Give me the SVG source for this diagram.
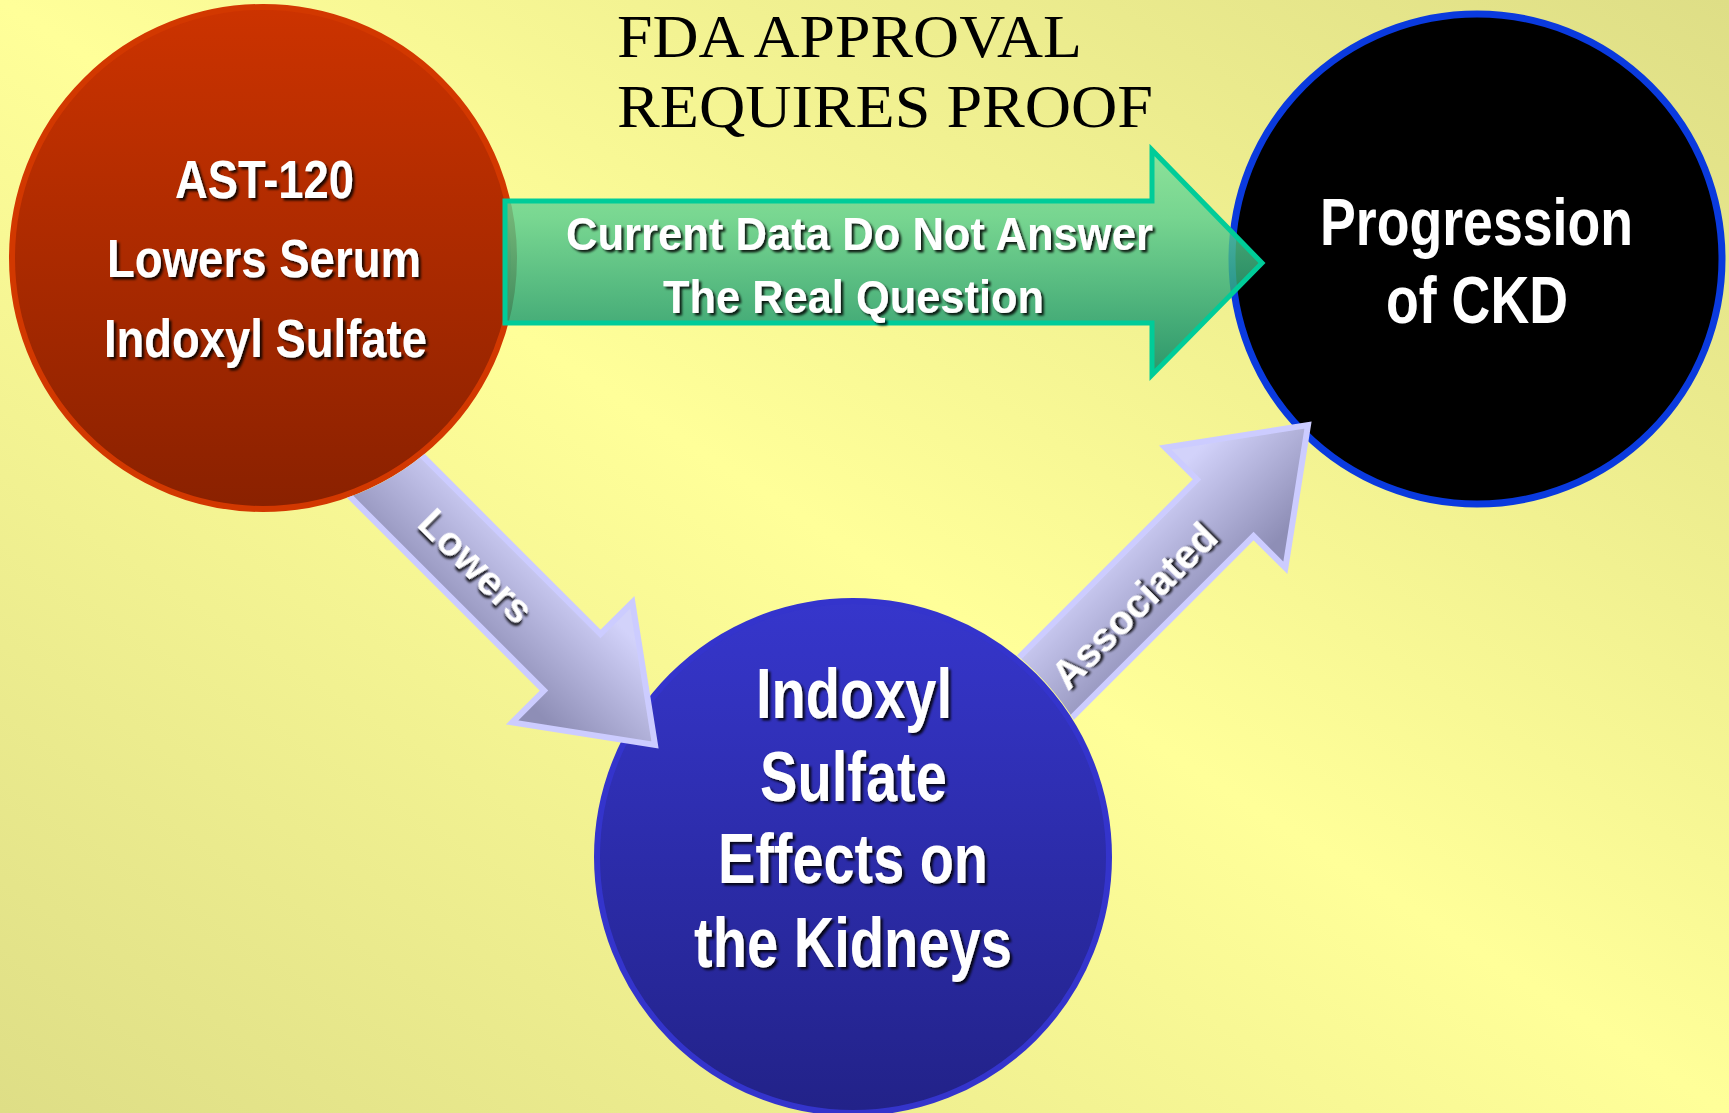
<svg xmlns="http://www.w3.org/2000/svg" width="1729" height="1113" viewBox="0 0 1729 1113">
<defs>
<linearGradient id="bg" x1="1" y1="0" x2="0" y2="1">
<stop offset="0" stop-color="#dede86"/>
<stop offset="0.5" stop-color="#ffff99"/>
<stop offset="1" stop-color="#dede86"/>
</linearGradient>
<linearGradient id="redFill" x1="0" y1="0" x2="0" y2="1">
<stop offset="0" stop-color="#cc3300"/>
<stop offset="1" stop-color="#8a2100"/>
</linearGradient>
<linearGradient id="blueFill" x1="0" y1="0" x2="0" y2="1">
<stop offset="0" stop-color="#3636cc"/>
<stop offset="1" stop-color="#222288"/>
</linearGradient>
<linearGradient id="greenFill" x1="0" y1="0" x2="0" y2="1">
<stop offset="0" stop-color="#78e09c"/>
<stop offset="0.3" stop-color="#5ccf90"/>
<stop offset="1" stop-color="#008262"/>
</linearGradient>
<linearGradient id="lavFill" gradientUnits="userSpaceOnUse" x1="0" y1="-60" x2="0" y2="60">
<stop offset="0" stop-color="#d2d2fa"/>
<stop offset="1" stop-color="#8e8eb6"/>
</linearGradient>
<filter id="sh" x="-10%" y="-20%" width="130%" height="150%">
<feDropShadow dx="2.5" dy="2.5" stdDeviation="1" flood-color="#000" flood-opacity="0.85"/>
</filter>
<mask id="maskRed" maskUnits="userSpaceOnUse" x="0" y="0" width="1729" height="1113">
<rect x="0" y="0" width="1729" height="1113" fill="#fff"/>
<circle cx="263" cy="258" r="254" fill="#000"/>
</mask>
<mask id="maskBlue" maskUnits="userSpaceOnUse" x="0" y="0" width="1729" height="1113">
<rect x="0" y="0" width="1729" height="1113" fill="#fff"/>
<circle cx="853" cy="857" r="260" fill="#000"/>
</mask>
</defs>
<style>
.bold { font-family: "Liberation Sans Narrow", "Liberation Sans", Arial, sans-serif; font-weight: bold; fill: #ffffff; }
.title { font-family: "Liberation Serif", "Times New Roman", serif; font-size: 62px; fill: #000000; }
.lav { fill: url(#lavFill); stroke: #ccccff; stroke-width: 6; stroke-linejoin: miter; }
</style>
<rect x="0" y="0" width="1729" height="1113" fill="url(#bg)"/>

<g id="title">
<text class="title" x="617" y="57" textLength="465" lengthAdjust="spacingAndGlyphs">FDA APPROVAL</text>
<text class="title" x="617" y="127" textLength="536" lengthAdjust="spacingAndGlyphs">REQUIRES PROOF</text>
</g>

<g id="node-ckd">
<circle cx="1477" cy="259" r="245" fill="#000" stroke="#0a3ade" stroke-width="7"/>
<text class="bold" x="1320" y="245" font-size="67" textLength="313" lengthAdjust="spacingAndGlyphs">Progression</text>
<text class="bold" x="1386" y="323" font-size="67" textLength="182" lengthAdjust="spacingAndGlyphs">of CKD</text>
</g>

<g id="node-indoxyl">
<circle cx="853" cy="857" r="256" fill="url(#blueFill)" stroke="#3434cc" stroke-width="6"/>
<g filter="url(#sh)">
<text class="bold" x="756" y="718" font-size="70" textLength="196" lengthAdjust="spacingAndGlyphs">Indoxyl</text>
<text class="bold" x="760" y="801" font-size="70" textLength="187" lengthAdjust="spacingAndGlyphs">Sulfate</text>
<text class="bold" x="718" y="883" font-size="70" textLength="270" lengthAdjust="spacingAndGlyphs">Effects on</text>
<text class="bold" x="694" y="967" font-size="70" textLength="318" lengthAdjust="spacingAndGlyphs">the Kidneys</text>
</g>
</g>

<g id="node-ast120">
<circle cx="263" cy="258" r="251" fill="url(#redFill)" stroke="#d23800" stroke-width="6"/>
<g filter="url(#sh)">
<text class="bold" x="175" y="198" font-size="54" textLength="179" lengthAdjust="spacingAndGlyphs">AST-120</text>
<text class="bold" x="107" y="277" font-size="54" textLength="314" lengthAdjust="spacingAndGlyphs">Lowers Serum</text>
<text class="bold" x="104" y="357" font-size="54" textLength="323" lengthAdjust="spacingAndGlyphs">Indoxyl Sulfate</text>
</g>
</g>

<g id="connectors">
<g id="arrow-lowers" mask="url(#maskRed)">
<g transform="translate(655,745) rotate(45)">
<path class="lav" d="M -430,-40 L -117,-40 L -117,-85 L 0,0 L -117,85 L -117,40 L -430,40 Z"/>
<text class="bold" x="-253" y="14" font-size="40" text-anchor="middle" textLength="143" lengthAdjust="spacingAndGlyphs" filter="url(#sh)">Lowers</text>
</g>
</g>
<g id="arrow-associated" mask="url(#maskBlue)">
<g transform="translate(1308,425) rotate(-45)">
<path class="lav" d="M -430,-40 L -117,-40 L -117,-85 L 0,0 L -117,85 L -117,40 L -430,40 Z"/>
<text class="bold" x="-251" y="19" font-size="40" text-anchor="middle" textLength="215" lengthAdjust="spacingAndGlyphs" filter="url(#sh)">Associated</text>
</g>
</g>
<g id="arrow-fda">
<path d="M 505,201 H 1152 V 150 L 1262,263 L 1152,375 V 323 H 505 Z" fill="url(#greenFill)" fill-opacity="0.82" stroke="#00cc99" stroke-width="5" stroke-linejoin="miter"/>
<g filter="url(#sh)">
<text class="bold" x="566" y="250" font-size="46" textLength="587" lengthAdjust="spacingAndGlyphs">Current Data Do Not Answer</text>
<text class="bold" x="663" y="313" font-size="46" textLength="381" lengthAdjust="spacingAndGlyphs">The Real Question</text>
</g>
</g>
</g>
</svg>
